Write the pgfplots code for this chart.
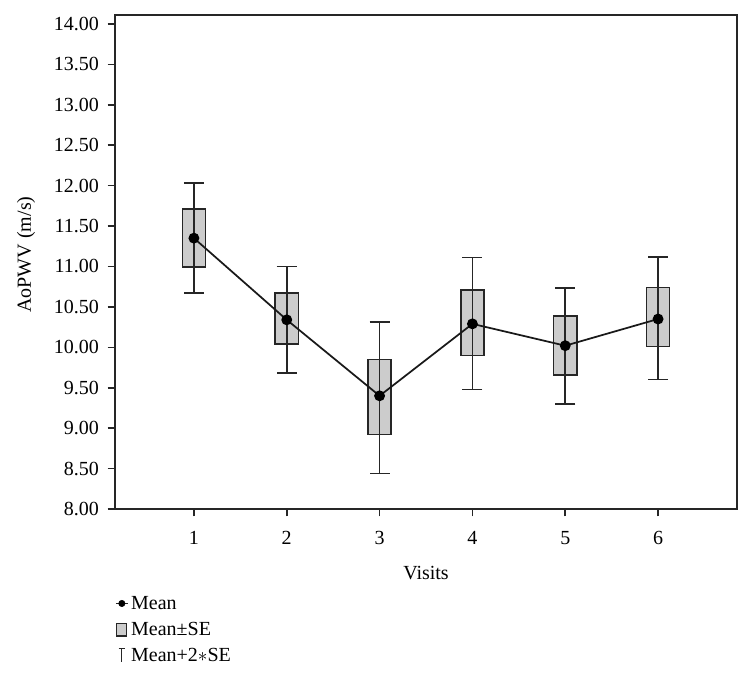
\documentclass[border=0pt]{standalone}
\usepackage{pgfplots}
\usepackage{pgfplotstable}
\pgfplotsset{compat=1.18}
\usepgfplotslibrary{statistics}
\usepackage{fontspec}
\setmainfont{Liberation Serif}
\pgfplotstableread{
x lo q1 m q3 hi
1 10.67 10.99 11.35 11.71 12.03
2 9.68 10.04 10.34 10.67 11.00
3 8.44 8.92 9.40 9.85 10.31
4 9.48 9.90 10.29 10.71 11.11
5 9.30 9.66 10.02 10.39 10.73
6 9.60 10.01 10.35 10.74 11.12
}\data
\begin{document}
\begin{tikzpicture}
\begin{axis}[
  scale only axis, width=466.5pt, height=370.5pt,
  xmin=0.15, xmax=6.85, ymin=8, ymax=14.11,
  xtick={1,2,3,4,5,6},
  ytick={8,8.5,9,9.5,10,10.5,11,11.5,12,12.5,13,13.5,14},
  tick label style={font=\fontsize{15}{18}\selectfont},
  xticklabel style={yshift=-8pt},
  yticklabel style={xshift=-3pt, /pgf/number format/.cd, fixed, fixed zerofill, precision=2},
  /pgf/number format/assume math mode=true,
  tick align=outside, xtick pos=left, ytick pos=left,
  major tick length=5.5pt,
  axis line style={black!85, line width=1.2pt},
  every tick/.style={black!85, line width=1.2pt},
  xlabel={Visits}, ylabel={AoPWV (m/s)},
  every axis x label/.style={at={(axis description cs:0.5,0)}, anchor=center, yshift=-48pt, font=\fontsize{15}{18}\selectfont},
  every axis y label/.style={at={(axis description cs:-0.143,0.515)}, anchor=center, rotate=90, font=\fontsize{15}{18}\selectfont},
  boxplot/draw direction=y,
  boxplot/box extend=0.25,
  boxplot/draw/median/.code={},
  boxplot/draw/lower whisker/.code={},
  boxplot/draw/upper whisker/.code={},
  legend style={at={(axis description cs:0,-0.17)}, anchor=north west, draw=none, fill=none,
    inner xsep=0pt, inner ysep=0pt, font=\fontsize{15}{18}\selectfont, row sep=4.1pt,
    nodes={inner xsep=2pt}},
  legend cell align=left,
]
\addplot[forget plot, draw=black!85, fill=black!20, line width=1.2pt, boxplot prepared={draw position=1, lower whisker=10.67, lower quartile=10.99, median=11.35, upper quartile=11.71, upper whisker=12.03}] coordinates {};
\addplot[forget plot, draw=black!85, fill=black!20, line width=1.2pt, boxplot prepared={draw position=2, lower whisker=9.68, lower quartile=10.04, median=10.34, upper quartile=10.67, upper whisker=11.00}] coordinates {};
\addplot[forget plot, draw=black!85, fill=black!20, line width=1.2pt, boxplot prepared={draw position=3, lower whisker=8.44, lower quartile=8.92, median=9.40, upper quartile=9.85, upper whisker=10.31}] coordinates {};
\addplot[forget plot, draw=black!85, fill=black!20, line width=1.2pt, boxplot prepared={draw position=4, lower whisker=9.48, lower quartile=9.90, median=10.29, upper quartile=10.71, upper whisker=11.11}] coordinates {};
\addplot[forget plot, draw=black!85, fill=black!20, line width=1.2pt, boxplot prepared={draw position=5, lower whisker=9.30, lower quartile=9.66, median=10.02, upper quartile=10.39, upper whisker=10.73}] coordinates {};
\addplot[forget plot, draw=black!85, fill=black!20, line width=1.2pt, boxplot prepared={draw position=6, lower whisker=9.60, lower quartile=10.01, median=10.35, upper quartile=10.74, upper whisker=11.12}] coordinates {};
\addplot[forget plot, only marks, mark=none,
  error bars/.cd, y dir=both, y explicit,
  error bar style={draw=black!85, line width=1.2pt},
  error mark options={rotate=90, draw=black!85, line width=1.2pt, mark size=7.5pt}]
  table[x=x, y=m, y error plus expr=\thisrow{hi}-\thisrow{m}, y error minus expr=\thisrow{m}-\thisrow{lo}] {\data};
\addplot[forget plot, black!90, line width=1.3pt, mark=*, mark size=3.4pt, mark options={fill=black, draw=black}] table[x=x, y=m] {\data};
\addlegendimage{legend image code/.code={\draw[black!85, line width=0.9pt] (0pt,0pt) -- (9pt,0pt); \fill[black] (4.5pt,0pt) circle (2.4pt);}}
\addlegendentry{Mean}
\addlegendimage{legend image code/.code={\draw[black!85, fill=black!20, line width=1pt] (0.5pt,-5pt) rectangle (8pt,4.5pt);}}
\addlegendentry{Mean±SE}
\addlegendimage{legend image code/.code={\draw[black!85, line width=0.9pt] (2pt,5pt) -- (7pt,5pt) (4.5pt,5pt) -- (4.5pt,-5pt);}}
\addlegendentry{Mean+2$\ast$SE}
\end{axis}
\fill[white] (-86.25pt,-125.25pt) rectangle (477.75pt,-114.75pt);
\pgfresetboundingbox
\useasboundingbox (-86.25pt,-125.25pt) rectangle (477.75pt,381.75pt);
\end{tikzpicture}
\end{document}
